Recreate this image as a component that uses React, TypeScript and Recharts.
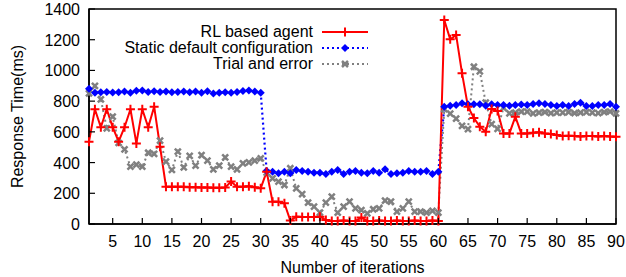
import React from 'react';
import { LineChart, Line, XAxis, YAxis, ReferenceArea } from 'recharts';

const iterations = Array.from({ length: 90 }, (_, i) => i + 1);

const rlAgent = [
  536, 747, 630, 747, 630, 536, 630, 747, 525, 747,
  630, 764, 503, 243, 243, 243, 243, 240, 240, 238,
  238, 236, 236, 238, 276, 243, 243, 246, 240, 232,
  341, 145, 145, 135, 22, 48, 45, 45, 45, 48,
  26, 20, 20, 22, 20, 20, 42, 20, 20, 22,
  20, 20, 22, 20, 20, 22, 20, 20, 22, 20,
  1328, 1203, 1231, 981, 764, 690, 634, 601, 749, 736,
  590, 590, 699, 590, 590, 595, 598, 590, 586, 580,
  573, 575, 573, 570, 573, 573, 570, 573, 570, 568,
];

const staticDefault = [
  880, 855, 858, 860, 856, 858, 862, 855, 868, 870,
  860, 865, 860, 862, 858, 860, 862, 858, 862, 855,
  865, 850, 855, 858, 855, 860, 866, 870, 862, 855,
  345, 341, 330, 341, 330, 352, 345, 341, 334, 334,
  326, 341, 352, 326, 341, 345, 334, 330, 345, 334,
  356, 326, 330, 334, 345, 341, 341, 345, 326, 341,
  764, 770, 775, 786, 780, 780, 780, 770, 780, 775,
  775, 770, 775, 778, 775, 781, 786, 781, 775, 768,
  775, 768, 781, 790, 768, 768, 775, 775, 781, 764,
];

const trialError = [
  851, 899, 812, 623, 699, 529, 486, 373, 386, 373,
  464, 456, 543, 406, 352, 471, 369, 443, 380, 449,
  412, 356, 380, 434, 373, 356, 395, 402, 412, 428,
  335, 297, 276, 254, 363, 232, 195, 139, 113, 74,
  139, 178, 74, 113, 145, 102, 91, 69, 96, 102,
  152, 145, 80, 102, 145, 80, 80, 74, 85, 74,
  748, 718, 686, 639, 618, 1024, 994, 790, 650, 620,
  756, 721, 725, 731, 731, 720, 725, 728, 722, 725,
  725, 728, 722, 725, 728, 725, 722, 728, 731, 720,
];

const xTicks = [5, 10, 15, 20, 25, 30, 35, 40, 45, 50, 55, 60, 65, 70, 75, 80, 85, 90];
const yTicks = [0, 200, 400, 600, 800, 1000, 1200, 1400];

const data = iterations.map((it, i) => ({
  it,
  rl: rlAgent[i],
  st: staticDefault[i],
  te: trialError[i],
}));

const FONT = '"Liberation Sans", Arial, sans-serif';
const FS = 16;

const plusPath = (cx: number, cy: number) => `M${cx - 4.5},${cy}H${cx + 4.5}M${cx},${cy - 4.5}V${cy + 4.5}`;
const diamondPath = (cx: number, cy: number) => `M${cx},${cy - 4}L${cx + 4},${cy}L${cx},${cy + 4}L${cx - 4},${cy}Z`;
const crossPath = (cx: number, cy: number) => `M${cx - 3},${cy - 3}L${cx + 3},${cy + 3}M${cx + 3},${cy - 3}L${cx - 3},${cy + 3}`;

const PlusDot = (p: any) =>
  p.cx == null ? null : <path key={'p' + p.index} d={plusPath(p.cx, p.cy)} stroke="#ff0000" strokeWidth={2} fill="none" />;
const DiamondDot = (p: any) =>
  p.cx == null ? null : <path key={'d' + p.index} d={diamondPath(p.cx, p.cy)} fill="#0000ff" stroke="none" />;
const CrossDot = (p: any) =>
  p.cx == null ? null : <path key={'c' + p.index} d={crossPath(p.cx, p.cy)} stroke="#808080" strokeWidth={2.5} fill="none" />;

const XTick = (p: any) => (
  <g>
    <line x1={p.x} x2={p.x} y1={p.y} y2={p.y - 6} stroke="#000" strokeWidth={1.2} />
    <text x={p.x} y={p.y + 23} textAnchor="middle" fontSize={FS} fontFamily={FONT} fill="#000">
      {p.payload.value}
    </text>
  </g>
);

const YTick = (p: any) => (
  <g>
    <line x1={p.x} x2={p.x + 6} y1={p.y} y2={p.y} stroke="#000" strokeWidth={1.2} />
    <text x={p.x - 9} y={p.y + 6} textAnchor="end" fontSize={FS} fontFamily={FONT} fill="#000">
      {p.payload.value}
    </text>
  </g>
);

const legendRows = [
  { label: 'RL based agent', color: '#ff0000', dash: undefined, kind: 'plus' },
  { label: 'Static default configuration', color: '#0000ff', dash: '2 3', kind: 'diamond' },
  { label: 'Trial and error', color: '#808080', dash: '2 3', kind: 'cross' },
];

const LegendBox = () => (
  <div style={{ position: 'absolute', left: 60, top: 24, width: 308, fontFamily: FONT, fontSize: FS, color: '#000' }}>
    {legendRows.map((r) => (
      <div key={r.label} style={{ display: 'flex', justifyContent: 'flex-end', alignItems: 'center', height: 16, lineHeight: '16px' }}>
        <span>{r.label}</span>
        <svg width={46} height={12} style={{ marginLeft: 9 }}>
          <line x1={0} x2={46} y1={6} y2={6} stroke={r.color} strokeWidth={2} strokeDasharray={r.dash} />
          {r.kind === 'diamond' && <path d={diamondPath(23, 6)} fill={r.color} />}
          {r.kind === 'plus' && <path d={plusPath(23, 6)} stroke={r.color} strokeWidth={2} fill="none" />}
          {r.kind === 'cross' && <path d={crossPath(23, 6)} stroke={r.color} strokeWidth={2.5} fill="none" />}
        </svg>
      </div>
    ))}
  </div>
);

export default function App() {
  return (
    <div style={{ position: 'absolute', left: 0, top: 0, width: 626, height: 277, background: '#fff' }}>
      <LineChart width={626} height={277} data={data} margin={{ top: 9, right: 10, bottom: 0, left: 0 }}>
        <XAxis
          dataKey="it"
          type="number"
          domain={[1, 90]}
          ticks={xTicks}
          tick={<XTick />}
          tickLine={false}
          tickSize={0}
          tickMargin={0}
          axisLine={{ stroke: '#000', strokeWidth: 1.5 }}
          height={53}
          label={{ value: 'Number of iterations', position: 'insideBottom', offset: 4, fontSize: FS, fontFamily: FONT, fill: '#000' }}
        />
        <YAxis
          domain={[0, 1400]}
          ticks={yTicks}
          tick={<YTick />}
          tickLine={false}
          tickSize={0}
          tickMargin={0}
          axisLine={{ stroke: '#000', strokeWidth: 1.5 }}
          width={89}
          label={{ value: 'Response Time(ms)', angle: -90, position: 'insideLeft', offset: 17, fontSize: FS, fontFamily: FONT, fill: '#000', style: { textAnchor: 'middle' } }}
        />
        <ReferenceArea x1={1} x2={90} y1={0} y2={1400} fill="none" stroke="#000" strokeWidth={1.5} fillOpacity={0} ifOverflow="visible" />
        <Line dataKey="te" stroke="#808080" strokeWidth={2} strokeDasharray="2 3" dot={CrossDot} activeDot={false} isAnimationActive={false} />
        <Line dataKey="st" stroke="#0000ff" strokeWidth={2.2} strokeDasharray="2 3" dot={DiamondDot} activeDot={false} isAnimationActive={false} />
        <Line dataKey="rl" stroke="#ff0000" strokeWidth={2} dot={PlusDot} activeDot={false} isAnimationActive={false} />
      </LineChart>
      <LegendBox />
    </div>
  );
}
